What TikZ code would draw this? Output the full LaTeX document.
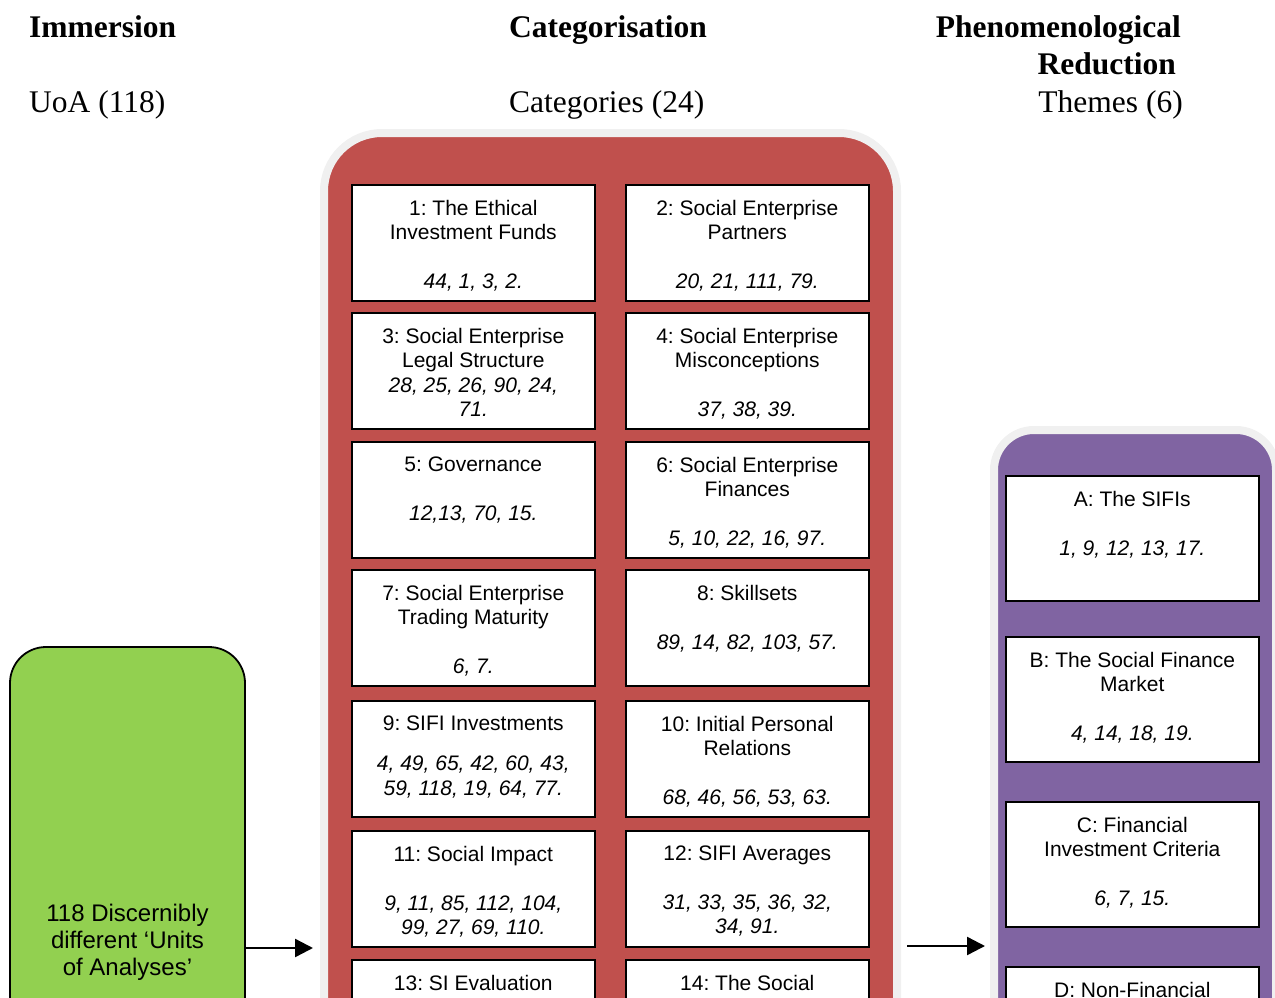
\documentclass[tikz,border=0pt]{standalone}
\usepackage{fontspec}
\setmainfont{Liberation Serif}
\newfontfamily\boxfont{Liberation Sans}
\usetikzlibrary{arrows.meta}
\definecolor{panelRed}{RGB}{192,80,77}
\definecolor{panelPurple}{RGB}{128,100,162}
\definecolor{uoaGreen}{RGB}{146,208,80}
\definecolor{haloGrey}{RGB}{240,240,240}
\frenchspacing
\newcommand{\BoxLines}[2]{\parbox[c][#1][t]{236pt}{\centering\vspace{15pt}#2}}

\begin{document}
\begin{tikzpicture}[x=1pt,y=-1pt,
  head/.style={font=\fontsize{31.5}{37}\selectfont,inner sep=0pt},
  catbox/.style={draw=black,line width=1.6pt,fill=white,inner sep=0pt,minimum width=243pt,anchor=north west,font=\boxfont\fontsize{21}{24.5}\selectfont},
  themebox/.style={catbox,minimum width=253pt},
  panel/.style={draw=haloGrey,line width=8pt,inner sep=0pt},
  flow/.style={-{Triangle[length=18pt,width=18pt]},line width=2.4pt}]
\useasboundingbox (0,0) rectangle (1275,998);
\clip (0,0) rectangle (1275,998);
% column headings
\node[head,anchor=base west] (immersion) at (29,38) {\bfseries Immersion};
\node[head,anchor=base west] (categorisation) at (509,38) {\bfseries Categorisation};
\node[head,anchor=base east] (phenom) at (1181,38) {\bfseries Phenomenological};
\node[head,anchor=base east] (reduction) at (1176,75) {\bfseries Reduction};
\node[head,anchor=base west] (uoacount) at (29,112) {UoA (118)};
\node[head,anchor=base west] (catcount) at (509,112) {Categories (24)};
\node[head,anchor=base east] (themecount) at (1183,112) {Themes (6)};
% panels
\node[panel,fill=panelRed,rounded corners=58pt,minimum width=573pt,minimum height=1400pt] (catpanel) at (610.5,833) {};
\node[panel,fill=panelPurple,rounded corners=40pt,minimum width=282pt,minimum height=1000pt] (themepanel) at (1135,930) {};
\node[draw=black,line width=1.8pt,fill=uoaGreen,rounded corners=36pt,minimum width=235pt,minimum height=590pt,align=center,font=\boxfont\fontsize{24}{27}\selectfont] (uoa) at (127.5,942) {118 Discernibly\\different ‘Units\\of Analyses’};
% categories
\node[catbox] (c1) at (351,184) {\BoxLines{116pt}{1: The Ethical\\Investment Funds\\[24.5pt]\textit{44, 1, 3, 2.}}};
\node[catbox] (c2) at (625,184) {\BoxLines{116pt}{2: Social Enterprise\\Partners\\[24.5pt]\textit{20, 21, 111, 79.}}};
\node[catbox] (c3) at (351,312) {\BoxLines{116pt}{3: Social Enterprise\\Legal Structure\\ \textit{28, 25, 26, 90, 24,}\\ \textit{71.}}};
\node[catbox] (c4) at (625,312) {\BoxLines{116pt}{4: Social Enterprise\\Misconceptions\\[24.5pt]\textit{37, 38, 39.}}};
\node[catbox] (c5) at (351,441) {\BoxLines{116pt}{5: Governance\\[24.5pt]\textit{12,13, 70, 15.}}};
\node[catbox] (c6) at (625,441) {\BoxLines{116pt}{6: Social Enterprise\\Finances\\[24.5pt]\textit{5, 10, 22, 16, 97.}}};
\node[catbox] (c7) at (351,569) {\BoxLines{116pt}{7: Social Enterprise\\Trading Maturity\\[24.5pt]\textit{6, 7.}}};
\node[catbox] (c8) at (625,569) {\BoxLines{116pt}{8: Skillsets\\[24.5pt]\textit{89, 14, 82, 103, 57.}}};
\node[catbox] (c9) at (351,700) {\BoxLines{116pt}{9: SIFI Investments\\[16pt]\textit{4, 49, 65, 42, 60, 43,}\\ \textit{59, 118, 19, 64, 77.}}};
\node[catbox] (c10) at (625,700) {\BoxLines{116pt}{10: Initial Personal\\Relations\\[24.5pt]\textit{68, 46, 56, 53, 63.}}};
\node[catbox] (c11) at (351,830) {\BoxLines{116pt}{11: Social Impact\\[24.5pt]\textit{9, 11, 85, 112, 104,}\\ \textit{99, 27, 69, 110.}}};
\node[catbox] (c12) at (625,830) {\BoxLines{116pt}{12: SIFI Averages\\[24.5pt]\textit{31, 33, 35, 36, 32,}\\ \textit{34, 91.}}};
\node[catbox] (c13) at (351,959) {\BoxLines{116pt}{13: SI Evaluation}};
\node[catbox] (c14) at (625,959) {\BoxLines{116pt}{14: The Social}};
% themes
\node[themebox] (tA) at (1005,475) {\BoxLines{125pt}{A: The SIFIs\\[25pt]\textit{1, 9, 12, 13, 17.}}};
\node[themebox] (tB) at (1005,636) {\BoxLines{125pt}{B: The Social Finance\\Market\\[24.5pt]\textit{4, 14, 18, 19.}}};
\node[themebox] (tC) at (1005,801) {\BoxLines{125pt}{C: Financial\\Investment Criteria\\[24.5pt]\textit{6, 7, 15.}}};
\node[themebox] (tD) at (1005,966) {\BoxLines{125pt}{D: Non-Financial}};
% arrows
\coordinate (flowA) at (0,948);
\coordinate (flowB) at (0,946);
\draw[flow,shorten >=7pt] (uoa.east |- flowA) -- (catpanel.west |- flowA);
\draw[flow,shorten <=6pt,shorten >=5pt] (catpanel.east |- flowB) -- (themepanel.west |- flowB);
\end{tikzpicture}
\end{document}
